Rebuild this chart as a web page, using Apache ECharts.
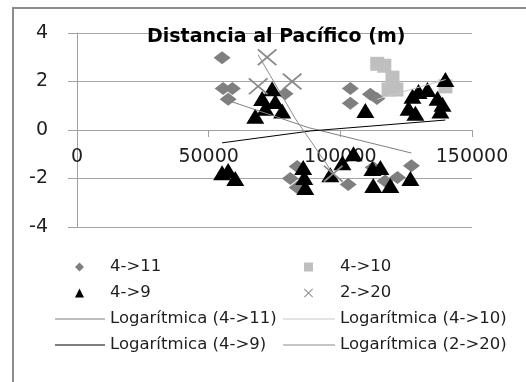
<!DOCTYPE html>
<html>
<head>
<meta charset="utf-8">
<script src="https://cdn.jsdelivr.net/npm/echarts@6/dist/echarts.min.js"></script>
<style>
  html, body { margin: 0; padding: 0; background: #ffffff; }
  #chart { width: 526px; height: 382px; }
</style>
</head>
<body>
<div id="chart"></div>
<script>
// Distance to the Pacific (m) on x, shift value on y
const xTicks = [0, 50000, 100000, 150000];
const yTicks = [-4, -2, 0, 2, 4];

const seriesNames = ['4->11', '4->10', '4->9', '2->20'];
const trendNames = ['Logarítmica (4->11)', 'Logarítmica (4->10)', 'Logarítmica (4->9)', 'Logarítmica (2->20)'];

const pts_4_11 = [
  [55100, 2.98], [55500, 1.71], [59000, 1.71], [57400, 1.27], [79000, 1.5],
  [103800, 1.71], [103800, 1.1], [111400, 1.47], [113900, 1.3],
  [81000, -2.0], [83600, -1.5], [83600, -2.37], [103000, -2.25],
  [121700, -1.96], [127000, -1.47], [112500, -1.55], [117000, -2.1]
];
const pts_4_10 = [
  [114000, 2.73], [116700, 2.65], [119800, 2.16], [118300, 1.67], [121300, 1.67], [139900, 1.8]
];
const pts_4_9 = [
  [74100, 1.7], [70300, 1.3], [75300, 1.18], [67700, 0.57], [77900, 0.78], [71500, 0.9],
  [109500, 0.8], [127400, 1.39], [129700, 1.59], [133100, 1.67], [125900, 0.9], [128500, 0.69],
  [136900, 1.31], [138800, 1.06], [138000, 0.78], [139900, 2.08],
  [55100, -1.76], [57400, -1.67], [60100, -2.0], [85900, -1.55], [86300, -1.96], [86700, -2.37],
  [96200, -1.85], [100800, -1.35], [105000, -0.98], [112200, -1.59], [115200, -1.55],
  [112500, -2.29], [119000, -2.29], [126600, -2.0]
];
const pts_2_20 = [
  [72200, 3.0], [68800, 1.8], [81700, 2.0], [97300, -1.8]
];

// Logarithmic trend lines
const trend_4_11 = [[55100, 1.3], [87800, 0.1], [127000, -0.95]];
const trend_4_10 = [[114000, 1.27], [140000, 2.08]];
const trend_4_9 = [[55100, -0.53], [88600, -0.04], [139900, 0.41]];
const trend_2_20 = [[68800, 3.1], [83000, 0.45], [97300, -1.8]];

const FONT = 'DejaVu Sans';
const TEXT = '#1e1e1e';
const AXIS = '#a0a0a0';

// Thin "x" marker as a filled outline
const CROSS = 'path://M0,1.4L1.4,0L10,8.6L18.6,0L20,1.4L11.4,10L20,18.6L18.6,20L10,11.4L1.4,20L0,18.6L8.6,10Z';

const chart = echarts.init(document.getElementById('chart'), null, { renderer: 'canvas' });

const legendText = { fontFamily: FONT, fontSize: 16.5, color: TEXT, lineHeight: 20 };

// Marker entries: small symbol, text pushed right to line up with the trend entries
function markerLegend(left, names, textPad) {
  return {
    orient: 'vertical', left: left, top: 257, padding: 0,
    itemWidth: 9, itemHeight: 9, itemGap: 6,
    data: names, selectedMode: false,
    textStyle: Object.assign({ padding: [0, 0, 0, textPad] }, legendText)
  };
}
// Trend entries: plain horizontal stroke
function lineLegend(left, width, names) {
  return {
    orient: 'vertical', left: left, top: 309, padding: 0,
    itemWidth: width, itemHeight: 1, itemGap: 6,
    icon: 'rect',
    data: names, selectedMode: false,
    textStyle: legendText
  };
}

chart.setOption({
  animation: false,
  backgroundColor: '#ffffff',
  title: {
    text: 'Distancia al Pacífico (m)',
    left: 147,
    top: 28,
    padding: 0,
    textStyle: { fontFamily: FONT, fontSize: 19, fontWeight: 'bold', color: '#000000' }
  },
  graphic: [{
    type: 'rect',
    shape: { x: 13, y: 8, width: 700, height: 600 },
    style: { fill: 'none', stroke: '#8c8c8c', lineWidth: 2 },
    silent: true
  }],
  legend: [
    markerLegend(75, [seriesNames[0], seriesNames[2]], 21),
    markerLegend(304, [seriesNames[1], seriesNames[3]], 22),
    lineLegend(55, 50, [trendNames[0], trendNames[2]]),
    lineLegend(283, 52, [trendNames[1], trendNames[3]])
  ],
  grid: { left: 77, right: 54, top: 33, bottom: 155, containLabel: false },
  xAxis: {
    type: 'value',
    min: xTicks[0],
    max: xTicks[xTicks.length - 1],
    interval: xTicks[1] - xTicks[0],
    axisLine: { show: true, onZero: true, lineStyle: { color: AXIS, width: 1 } },
    axisTick: { show: true, inside: false, length: 7, lineStyle: { color: AXIS } },
    splitLine: { show: false },
    axisLabel: {
      margin: -79, fontFamily: FONT, fontSize: 19, color: TEXT,
      formatter: function (v) { return String(v); }
    }
  },
  yAxis: {
    type: 'value',
    min: yTicks[0],
    max: yTicks[yTicks.length - 1],
    interval: yTicks[1] - yTicks[0],
    axisLine: { show: true, lineStyle: { color: AXIS, width: 1 } },
    axisTick: { show: true, inside: false, length: 9, lineStyle: { color: AXIS } },
    splitLine: { show: true, lineStyle: { color: '#a6a6a6', width: 1 } },
    axisLabel: { margin: 29, fontFamily: FONT, fontSize: 19, color: TEXT }
  },
  series: [
    {
      name: seriesNames[0], type: 'scatter', data: pts_4_11,
      symbol: 'diamond', symbolSize: [17, 13],
      itemStyle: { color: '#7f7f7f', opacity: 1 }
    },
    {
      name: seriesNames[1], type: 'scatter', data: pts_4_10,
      symbol: 'rect', symbolSize: [14, 14],
      itemStyle: { color: '#bfbfbf', opacity: 1 }
    },
    {
      name: seriesNames[2], type: 'scatter', data: pts_4_9,
      symbol: 'triangle', symbolSize: [18, 15],
      itemStyle: { color: '#000000', opacity: 1 }
    },
    {
      name: seriesNames[3], type: 'scatter', data: pts_2_20,
      symbol: CROSS, symbolSize: [20, 17],
      itemStyle: { color: '#8c8c8c', opacity: 1 }
    },
    {
      name: trendNames[0], type: 'line', data: trend_4_11, symbol: 'none', showSymbol: false,
      lineStyle: { color: '#7f7f7f', width: 1 }, itemStyle: { color: '#7f7f7f' }
    },
    {
      name: trendNames[1], type: 'line', data: trend_4_10, symbol: 'none', showSymbol: false,
      lineStyle: { color: '#c8c8c8', width: 1 }, itemStyle: { color: '#c8c8c8' }
    },
    {
      name: trendNames[2], type: 'line', data: trend_4_9, symbol: 'none', showSymbol: false,
      lineStyle: { color: '#000000', width: 1 }, itemStyle: { color: '#000000' }
    },
    {
      name: trendNames[3], type: 'line', data: trend_2_20, symbol: 'none', showSymbol: false,
      lineStyle: { color: '#8c8c8c', width: 1 }, itemStyle: { color: '#8c8c8c' }
    }
  ]
});
</script>
</body>
</html>
